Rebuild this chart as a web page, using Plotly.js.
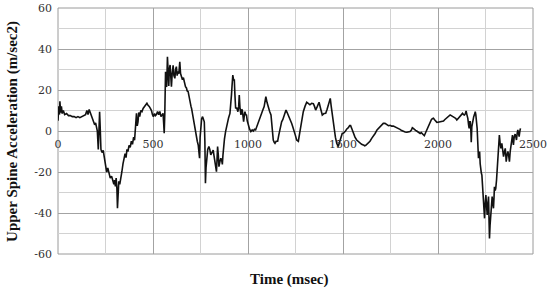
<!DOCTYPE html>
<html>
<head>
<meta charset="utf-8">
<script src="https://cdn.plot.ly/plotly-3.0.1.min.js"></script>
<style>
  html, body { margin: 0; padding: 0; background: #fff; }
  #chart { width: 550px; height: 291px; }
</style>
</head>
<body>
<div id="chart"></div>
<script>
// upper spine acceleration trace
const timeMs = [
  0, 4, 8, 10, 14, 18, 22, 28, 35, 45, 55, 65, 75, 85, 95, 105, 115, 125, 135, 145,
  152, 158, 164, 170, 176, 182, 188, 193, 198, 203, 207, 212, 216, 219, 222, 226, 232, 238, 244, 250,
  256, 262, 268, 275, 282, 288, 294, 298, 302, 306, 310, 313, 316, 320, 325, 330, 336, 342, 348, 353,
  358, 363, 368, 374, 380, 386, 392, 398, 403, 408, 413, 417, 421, 425, 430, 436, 442, 448, 455, 462,
  468, 474, 480, 486, 492, 497, 502, 508, 513, 518, 524, 530, 536, 542, 548, 553, 556, 559, 562, 566,
  569, 572, 576, 579, 583, 586, 590, 594, 597, 601, 606, 610, 615, 619, 623, 627, 632, 636, 641, 645,
  650, 655, 660, 664, 668, 671, 676, 680, 685, 690, 695, 700, 703, 708, 712, 716, 720, 724, 729, 733,
  738, 742, 745, 748, 752, 756, 761, 765, 770, 773, 776, 779, 783, 788, 794, 799, 804, 810, 817, 821,
  826, 830, 834, 837, 840, 844, 847, 852, 857, 861, 865, 868, 871, 876, 882, 887, 892, 898, 905, 909,
  913, 916, 920, 924, 928, 931, 935, 940, 947, 951, 954, 958, 963, 966, 970, 974, 977, 981, 984, 988,
  992, 996, 1001, 1008, 1015, 1022, 1028, 1034, 1040, 1047, 1054, 1063, 1072, 1079, 1085, 1090, 1094, 1100, 1107, 1114,
  1121, 1127, 1133, 1138, 1142, 1148, 1156, 1162, 1168, 1177, 1183, 1189, 1195, 1200, 1206, 1212, 1220, 1230, 1236, 1242,
  1249, 1256, 1265, 1272, 1279, 1285, 1291, 1300, 1309, 1317, 1326, 1335, 1344, 1350, 1356, 1365, 1374, 1382, 1391, 1400,
  1409, 1416, 1423, 1433, 1438, 1444, 1449, 1454, 1460, 1467, 1475, 1480, 1484, 1490, 1496, 1503, 1511, 1520, 1528, 1535,
  1540, 1547, 1554, 1563, 1572, 1580, 1590, 1598, 1607, 1614, 1620, 1627, 1633, 1642, 1651, 1660, 1669, 1679, 1686, 1695,
  1704, 1712, 1721, 1730, 1739, 1748, 1756, 1765, 1775, 1783, 1791, 1800, 1809, 1818, 1827, 1836, 1845, 1853, 1860, 1865,
  1870, 1876, 1882, 1888, 1895, 1900, 1906, 1912, 1918, 1923, 1928, 1934, 1941, 1948, 1953, 1958, 1965, 1970, 1976, 1982,
  1988, 1994, 2000, 2006, 2011, 2018, 2023, 2029, 2035, 2041, 2046, 2052, 2058, 2064, 2070, 2076, 2081, 2087, 2093, 2099,
  2104, 2110, 2116, 2122, 2129, 2134, 2139, 2144, 2148, 2152, 2157, 2161, 2164, 2167, 2170, 2173, 2175, 2178, 2182, 2185,
  2188, 2192, 2196, 2199, 2201, 2204, 2206, 2209, 2213, 2216, 2219, 2222, 2224, 2228, 2231, 2234, 2238, 2242, 2245, 2248,
  2252, 2256, 2259, 2262, 2266, 2269, 2271, 2274, 2278, 2281, 2285, 2288, 2292, 2295, 2297, 2301, 2304, 2308, 2311, 2315,
  2318, 2321, 2323, 2327, 2331, 2336, 2340, 2345, 2350, 2354, 2357, 2359, 2363, 2368, 2372, 2376, 2380, 2385, 2389, 2392,
  2395, 2397, 2401, 2406, 2410, 2413, 2417, 2420, 2424, 2427, 2431, 2434
];
const accel = [
  5, 12, 8, 14.5, 9, 12, 8.5, 10, 8, 8.5, 7.5, 7.5, 7, 7, 6.5, 7, 6.5, 7, 7.5, 8,
  10, 8, 10.5, 9, 7.8, 6, 4, 3, 4, 1, 0, -9, 0, 9.4, 2, -9, -10.5, -9.5, -13, -17,
  -20, -18, -21, -23, -22, -25, -26, -24, -27, -23, -28, -37.7, -27, -24.5, -26, -22, -20, -16, -14, -11,
  -13, -9, -10, -7, -8, -5, -6.5, -3, -4.5, 2, 8.6, 2.5, 4.5, 9, 7, 10, 9.5, 11, 12, 13,
  13.5, 12.5, 12, 11, 10, 8, 7, 8.5, 7.5, 8, 9.5, 8, 9.5, 7, 8, 8.6, 4, -1.1, 8, 28.9,
  22, 21.6, 36.2, 24, 22, 30, 32.2, 26, 21.6, 28, 32, 27, 25.7, 30, 31.4, 27, 29, 28, 33.8, 28,
  26.5, 25, 26, 24, 22.5, 21.6, 21, 19.5, 19.2, 16, 14, 12, 11, 8, 7, 4, 2.9, -1, -3.6, -5,
  -6.8, -10, -13.3, -3, 4.5, 6, 7, 5, 4.5, -5, -25.5, -18, -11.7, -9, -7.6, -9, -11.7, -10.5, -9.3, -12,
  -15, -18, -19.8, -14, -7.6, -12, -17.4, -15, -13.3, -14, -16.3, -12, -6.8, -4, -0.3, 2, 4.5, 6.5, 8.6, 12,
  17.6, 22, 27.3, 25, 24.9, 18, 11, 11.5, 9.4, 12, 17.6, 11, 7.8, 10.5, 10.2, 7, 4.5, 8, 9.4, 8,
  7.8, 5, 2.9, 1, -0.3, 0.5, 0, 0.8, 0.5, 2.5, 4.5, 7, 9.4, 10.5, 11.9, 14, 16.7, 14, 11, 9.5,
  7.8, 1, -4.4, -5.5, -6, -5, -5, -2, 1.3, 4.5, 5.5, 7, 9, 10.2, 9, 7.8, 6, 3.7, 2, 0.5,
  -2, -4.4, -5, -1, 2.9, 6, 9.4, 12, 14, 13.5, 12.8, 13.5, 13.3, 12, 10.2, 12, 14, 11, 7.8, 8.5,
  8.6, 10.5, 12.7, 15.9, 12, 7.8, 4, -0.3, -3, -6, -7.6, -6, -4.4, -3, -1.2, -1, -0.3, 1, 1.6, 2.6,
  2.6, 1, -1.2, -3, -4.4, -5, -6, -6.5, -6.8, -7.2, -7, -6.5, -6, -5, -3.6, -2.5, -1.2, 0.5, 1.3, 2,
  2.9, 3.7, 3.7, 3, 2.6, 2.8, 2.4, 2.4, 2, 1.8, 1.3, 0.8, 0.2, -0.3, -0.5, -0.6, -0.6, -0.3, 0.5, 1.6,
  1.3, 0.5, 0.3, 0, -0.5, -1, -1.2, -0.8, -1.5, -2, -2.3, -1, 0.5, 2.5, 3.5, 4.5, 5.5, 6, 6.2, 5.5,
  4.5, 4.2, 4.3, 4.4, 4.5, 4.6, 4.8, 4.9, 5.5, 6, 6.5, 7, 7.5, 7.8, 7.5, 7, 7, 6.5, 6.2, 5.4,
  5.9, 6.5, 7, 7.5, 8.6, 8, 7.8, 8.5, 9.8, 8, 6.2, 3, 1.3, 4.5, 4.5, 0, -5.5, 2, 4.5, 6,
  7, 8, 9.4, 8, 6.2, 3, 1.3, -5, -13.3, -11, -10, -16, -19.8, -20.5, -21.5, -26, -31.2, -37, -42.6, -36,
  -31.2, -37, -41, -36, -32, -45, -52.4, -46, -39.4, -35, -32, -35, -37.7, -32, -27.2, -29, -28, -24, -19.8, -15,
  -11.7, -6, -2, -6, -8.5, -6, -9, -12.5, -10, -8.5, -12, -15, -12, -10, -12, -15, -10, -6, -4, -2,
  -5, -6.8, -3, -1.5, -3, -4.4, -1, 0.5, -1, -2.8, 0, 1.3
];

const xTicks = [0, 500, 1000, 1500, 2000, 2500];
const yTicks = [-60, -40, -20, 0, 20, 40, 60];

const TITLE_FONT = "Liberation Serif";
const TICK_FONT = "DejaVu Serif";
const MAJOR = "#a3a3a3";
const MINOR = "#d2d2d2";

const trace = {
  x: timeMs,
  y: accel,
  type: "scatter",
  mode: "lines",
  line: { color: "#111", width: 1.6 },
  hoverinfo: "skip",
};

const layout = {
  width: 550,
  height: 291,
  margin: { l: 58, r: 17, t: 8, b: 37 },
  paper_bgcolor: "#fff",
  plot_bgcolor: "#fff",
  showlegend: false,
  font: { family: TICK_FONT, size: 11, color: "#333" },
  xaxis: {
    range: [0, 2500],
    tickvals: xTicks,
    ticktext: xTicks.map(String),
    anchor: "free",
    position: 0.5,
    showline: false,
    zeroline: false,
    ticks: "",
    ticklabelstandoff: 5,
    showgrid: true,
    gridcolor: MAJOR,
    gridwidth: 1,
    minor: { dtick: 250, tick0: 0, showgrid: true, gridcolor: MINOR, gridwidth: 1 },
    tickfont: { family: TICK_FONT, size: 11, color: "#333" },
  },
  yaxis: {
    range: [-60, 60],
    tickvals: yTicks,
    ticktext: yTicks.map(String),
    zeroline: false,
    showline: false,
    ticks: "",
    ticklabelstandoff: 5,
    showgrid: true,
    gridcolor: MAJOR,
    gridwidth: 1,
    minor: { dtick: 10, tick0: 0, showgrid: true, gridcolor: MINOR, gridwidth: 1 },
    tickfont: { family: TICK_FONT, size: 11, color: "#333" },
  },
  shapes: [
    {
      type: "rect", xref: "paper", yref: "paper",
      x0: 0, x1: 1, y0: 0, y1: 1,
      line: { color: "#9a9a9a", width: 1 },
      layer: "below",
    },
  ],
  annotations: [
    {
      text: "<b>Upper Spine Acceleration (m/sec2)</b>",
      xref: "paper", yref: "paper",
      x: -0.097, y: 0.5, xanchor: "center", yanchor: "middle",
      textangle: -90, showarrow: false,
      font: { family: TITLE_FONT, size: 15, color: "#111" },
    },
    {
      text: "<b>Time (msec)</b>",
      xref: "paper", yref: "paper",
      x: 0.486, y: -0.104, xanchor: "center", yanchor: "middle",
      showarrow: false,
      font: { family: TITLE_FONT, size: 15, color: "#111" },
    },
  ],
};

Plotly.newPlot("chart", [trace], layout, { displayModeBar: false, staticPlot: true });
</script>
</body>
</html>
